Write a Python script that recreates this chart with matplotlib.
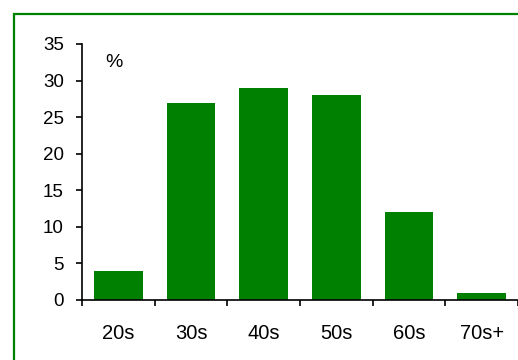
import matplotlib.pyplot as plt
from matplotlib.patches import Rectangle

ages = ['20s', '30s', '40s', '50s', '60s', '70s+']
share = [4, 27, 29, 28, 12, 1]
yticks = [0, 5, 10, 15, 20, 25, 30, 35]

plt.rcParams['font.family'] = ['Liberation Sans', 'DejaVu Sans']

fig = plt.figure(figsize=(5.18, 3.6), dpi=100)
ax = fig.add_axes([82 / 518, 60 / 360, 436 / 518, 256 / 360])

x = list(range(len(ages)))
ax.bar(x, share, width=0.67, color='#008000')

ax.set_xlim(-0.5, len(ages) - 0.5)
ax.set_ylim(0, 35)
ax.set_yticks(yticks)
ax.set_xticks(x)
ax.set_xticklabels(ages)
ax.set_xticks([i - 0.5 for i in range(len(ages) + 1)], minor=True)

for s in ['top', 'right']:
    ax.spines[s].set_visible(False)
for s in ['left', 'bottom']:
    ax.spines[s].set_linewidth(1.2)
ax.tick_params(axis='y', length=4, width=1.2, pad=9, labelsize=13.5)
ax.tick_params(axis='x', which='major', length=0, pad=17, labelsize=14.5)
ax.tick_params(axis='x', which='minor', length=4, width=1.2)

ax.text(0.073, 0.928, '%', transform=ax.transAxes, ha='center', va='center', fontsize=14)

# green frame round the chart
frame = Rectangle((14 / 518, -0.5), 2, 0.5 + 346 / 360, transform=fig.transFigure,
                  fill=False, edgecolor='#008000', linewidth=1.6)
fig.patches.append(frame)

fig.savefig('out.png', dpi=100)
